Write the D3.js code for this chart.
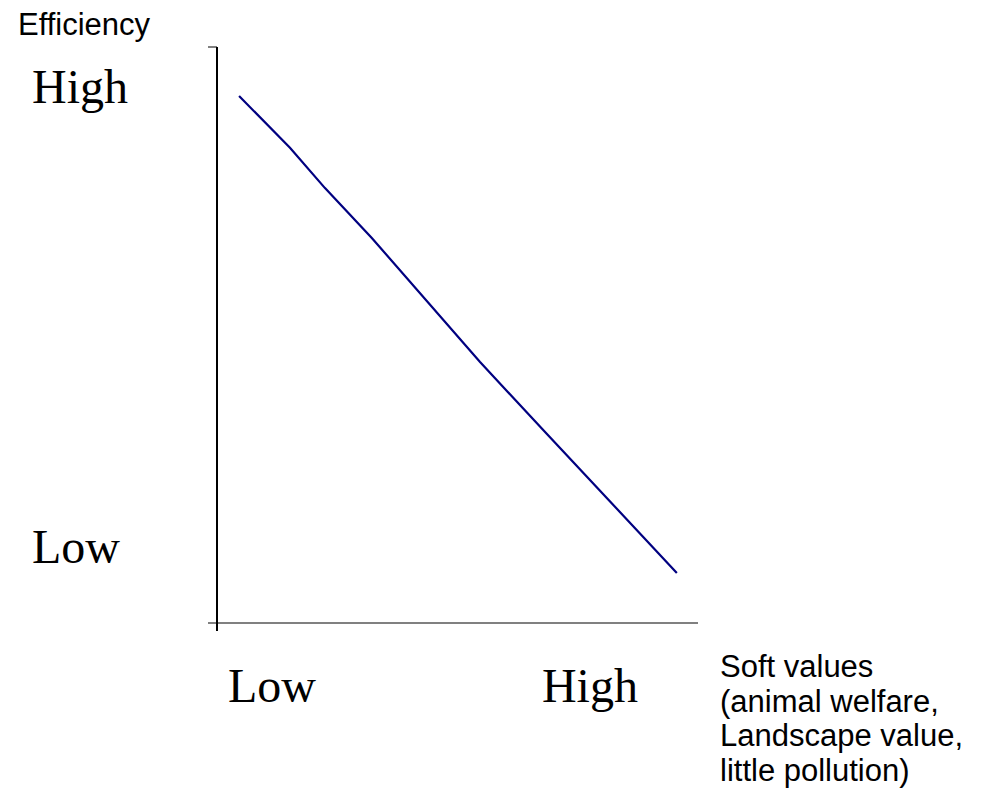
<!DOCTYPE html>
<html>
<head>
<meta charset="utf-8">
<script src="https://cdn.jsdelivr.net/npm/d3@7"></script>
<style>
  html, body { margin: 0; padding: 0; background: #fff; }
  svg { display: block; }
</style>
</head>
<body>
<script>
// ---- data ----
const softValues = [4.6, 15.2, 22.5, 32.3, 54.8, 68.3, 95.8];
const efficiency = [91.5, 82.5, 75.5, 66.8, 45.3, 33.2, 8.7];
const yTickLabels = ["Low", "High"];
const xTickLabels = ["Low", "High"];
const yTickLevels = [10.4, 90.3];
const xTickLevels = [2.3, 67.7];
const yAxisTitle = "Efficiency";
const xAxisTitle = ["Soft values", "(animal welfare,", "Landscape value,", "little pollution)"];

const W = 981, H = 794;
const svg = d3.select("body").append("svg").attr("width", W).attr("height", H);

const x = d3.scaleLinear().domain([0, 100]).range([217, 697]);
const y = d3.scaleLinear().domain([0, 100]).range([623, 47]);

const serif = "'Liberation Serif', 'Times New Roman', serif";
const sans = "'Liberation Sans', Arial, sans-serif";

// axes
svg.append("line")
  .attr("x1", x(0) - 9).attr("x2", x(100) + 1)
  .attr("y1", y(0)).attr("y2", y(0))
  .attr("stroke", "#808080").attr("stroke-width", 2);
svg.append("line")
  .attr("x1", x(0) - 9).attr("x2", x(0))
  .attr("y1", y(100)).attr("y2", y(100))
  .attr("stroke", "#808080").attr("stroke-width", 2);
svg.append("line")
  .attr("x1", x(0)).attr("x2", x(0))
  .attr("y1", y(100)).attr("y2", y(0) + 8)
  .attr("stroke", "#000").attr("stroke-width", 2);

// line
const pts = softValues.map((v, i) => [v, efficiency[i]]);
svg.append("path")
  .datum(pts)
  .attr("fill", "none")
  .attr("stroke", "#000080")
  .attr("stroke-width", 2.2)
  .attr("d", d3.line().x(d => x(d[0])).y(d => y(d[1])));

// y tick labels
svg.selectAll(".ylab").data(yTickLabels).enter().append("text")
  .attr("x", 32).attr("y", (d, i) => y(yTickLevels[i]))
  .attr("font-family", serif).attr("font-size", 48).attr("fill", "#000")
  .text(d => d);

// x tick labels
svg.selectAll(".xlab").data(xTickLabels).enter().append("text")
  .attr("x", (d, i) => x(xTickLevels[i])).attr("y", 702)
  .attr("font-family", serif).attr("font-size", 48).attr("fill", "#000")
  .text(d => d);

// titles
svg.append("text").attr("x", 18).attr("y", 35)
  .attr("font-family", sans).attr("font-size", 31).attr("fill", "#000")
  .text(yAxisTitle);

svg.append("g").selectAll("text").data(xAxisTitle).enter().append("text")
  .attr("x", 720).attr("y", (d, i) => 677 + i * 34.5)
  .attr("font-family", sans).attr("font-size", 31).attr("fill", "#000")
  .text(d => d);
</script>
</body>
</html>
